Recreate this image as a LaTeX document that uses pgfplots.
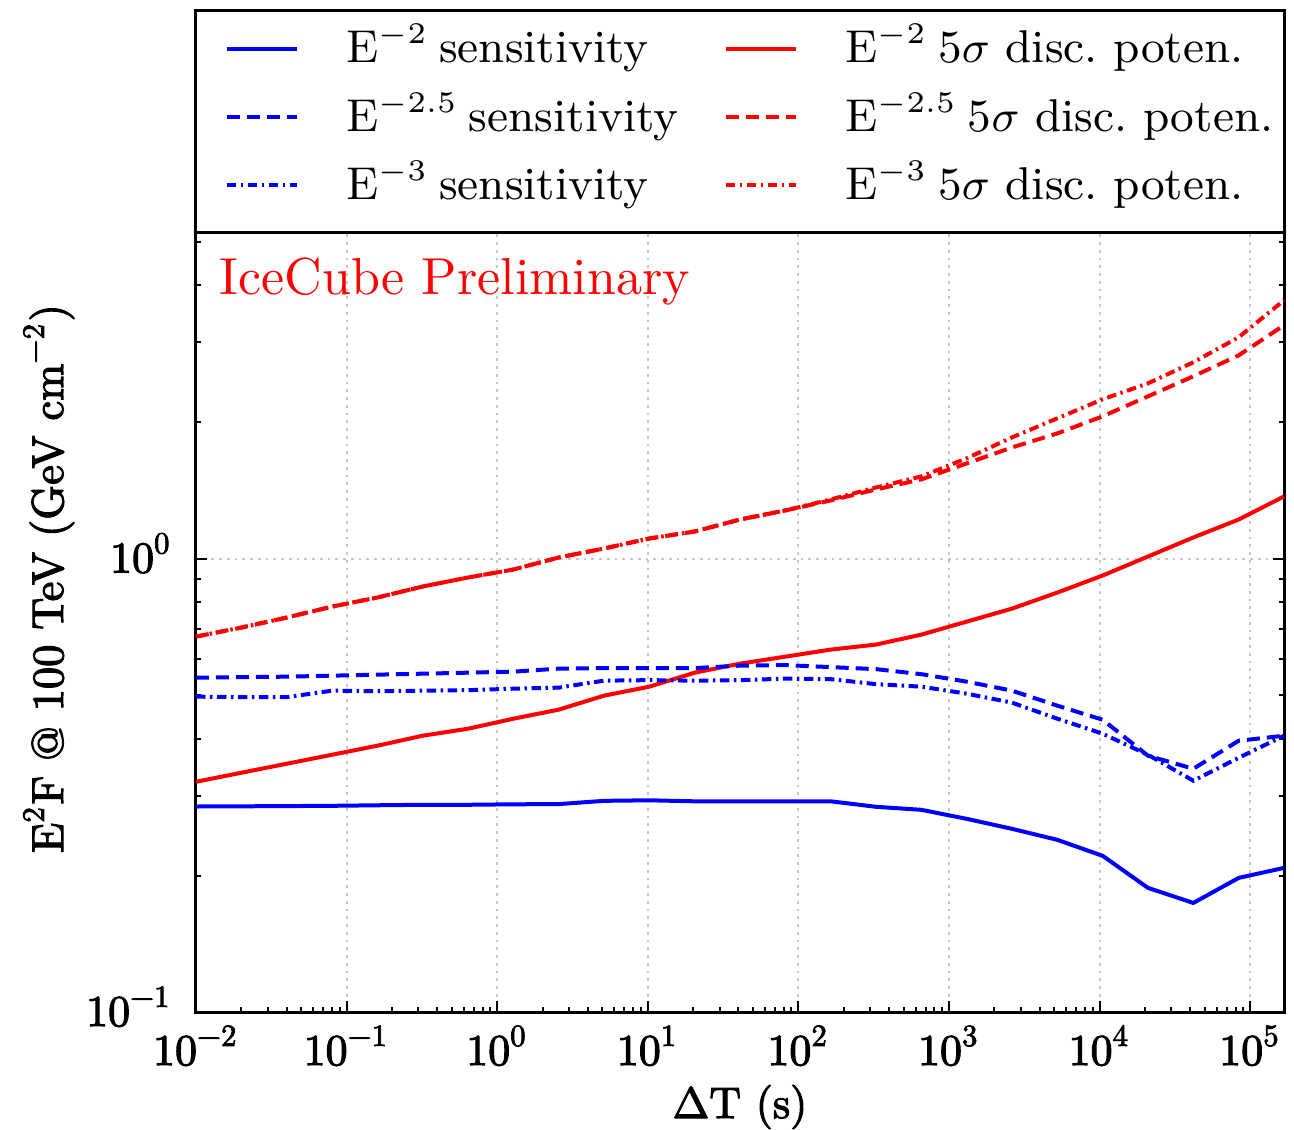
\documentclass[border=0pt]{standalone}
\usepackage{fontspec}
\usepackage{pgfplots}
\pgfplotsset{compat=1.18}
\usepackage{pgfplotstable}
\newfontfamily\fb{lmroman10-regular.otf}[FakeBold=2.5]

\pgfplotstableread{
x s2 s25 s3 d2 d25 d3
0.01 0.2839 0.5461 0.4959 0.3219 0.6727 0.6727
0.02 0.2842 0.5475 0.4946 0.3370 0.7043 0.7043
0.04 0.2845 0.5489 0.4946 0.3528 0.7410 0.7410
0.08 0.2849 0.5517 0.5112 0.3692 0.7834 0.7834
0.16 0.2857 0.5545 0.5099 0.3866 0.8203 0.8203
0.32 0.2864 0.5573 0.5112 0.4067 0.8674 0.8674
0.64 0.2864 0.5601 0.5125 0.4214 0.9081 0.9081
1.28 0.2871 0.5631 0.5164 0.4434 0.9456 0.9456
2.56 0.2874 0.5718 0.5191 0.4642 1.0051 1.0051
5.12 0.2922 0.5733 0.5379 0.4984 1.0522 1.0522
10.24 0.2930 0.5733 0.5393 0.5217 1.1071 1.1071
20.48 0.2915 0.5733 0.5379 0.5601 1.1471 1.1471
40.96 0.2915 0.5805 0.5393 0.5864 1.2190 1.2190
81.92 0.2915 0.5820 0.5434 0.6076 1.2764 1.2764
163.84 0.2915 0.5762 0.5420 0.6297 1.3428 1.3496
327.68 0.2835 0.5703 0.5284 0.6460 1.4203 1.4345
655.36 0.2792 0.5559 0.5217 0.6796 1.4945 1.5171
1310.72 0.2667 0.5352 0.5035 0.7259 1.6207 1.6634
2621.44 0.2535 0.5112 0.4810 0.7755 1.7579 1.8497
5242.88 0.2397 0.4737 0.4434 0.8413 1.8877 2.0377
10485.76 0.2210 0.4411 0.4109 0.9173 2.0585 2.2439
20971.52 0.1878 0.3674 0.3692 1.0102 2.2787 2.4343
41943.04 0.1740 0.3439 0.3236 1.1128 2.5223 2.7081
83886.08 0.1976 0.3965 0.3636 1.2190 2.8058 3.0753
167772.16 0.2079 0.4067 0.4067 1.3705 3.2682 3.7110
}\datatab

\tikzset{
  dsh/.style={dash pattern=on 2.6pt off 1.4pt},
  dshdot/.style={dash pattern=on 1.9pt off 0.9pt on 0.5pt off 0.9pt},
}
\newcommand{\strt}{\rule[-2pt]{0pt}{8.6pt}}

\begin{document}
\begin{tikzpicture}
\begin{axis}[
  at={(0,0)}, anchor=south west,
  scale only axis, width=217.6pt, height=200.4pt,
  xmode=log, ymode=log,
  xmin=0.01, xmax=167772.16, ymin=0.1, ymax=16.2,
  clip=false,
  axis line style={line width=0.6pt, black},
  every tick/.style={black, line width=0.4pt},
  major tick length=2.2pt, minor tick length=1.1pt,
  xtick={0.01,0.1,1,10,100,1000,10000,100000},
  xticklabels={{\fb 10\textsuperscript{−2}},{\fb 10\textsuperscript{−1}},{\fb 10\textsuperscript{0}},{\fb 10\textsuperscript{1}},{\fb 10\textsuperscript{2}},{\fb 10\textsuperscript{3}},{\fb 10\textsuperscript{4}},{\fb 10\textsuperscript{5}}},
  minor xtick={0.02,0.03,0.04,0.05,0.06,0.07,0.08,0.09,
    0.2,0.3,0.4,0.5,0.6,0.7,0.8,0.9,
    2,3,4,5,6,7,8,9,
    20,30,40,50,60,70,80,90,
    200,300,400,500,600,700,800,900,
    2000,3000,4000,5000,6000,7000,8000,9000,
    20000,30000,40000,50000,60000,70000,80000,90000},
  ytick={0.1,1,10},
  yticklabels={{\fb 10\textsuperscript{−1}},{\fb 10\textsuperscript{0}},{}},
  minor ytick={0.2,0.3,0.4,0.5,0.6,0.7,0.8,0.9,2,3,4,5,6,7,8,9},
  tick label style={font=\fontsize{8.8}{10}\selectfont, inner sep=0pt},
  xticklabel style={anchor=base, yshift=-10.6pt},
  yticklabel style={anchor=base east, xshift=-4.6pt, yshift=-2.8pt},
  grid=major,
  major grid style={black!22, line width=0.4pt, dash pattern=on 0.55pt off 1.0pt},
  xlabel={\fb ΔT (s)},
  xlabel style={at={(axis description cs:0.5,-0.1058)}, anchor=base, inner sep=0pt, font=\fontsize{8.8}{10}\selectfont},
  ylabel={\fb E\textsuperscript{2}F @ 100 TeV (GeV cm\textsuperscript{−2})},
  ylabel style={at={(axis description cs:-0.1222,0.4326)}, anchor=base, inner sep=0pt, font=\fontsize{8.9}{10}\selectfont},
  legend columns=2,
  legend cell align=left,
  legend image code/.code={\draw[#1] (0pt,0pt) -- (14pt,0pt);},
  legend style={at={(axis description cs:0.0253,0.9867)}, anchor=north west,
    draw=none, fill=none, inner sep=0pt, row sep=4.0pt,
    nodes={inner sep=0pt, text depth=2pt},
    /tikz/every odd column/.append style={column sep=9.6pt},
    /tikz/every even column/.append style={column sep=8.4pt},
    font=\fontsize{9.2}{11}\selectfont},
  every axis plot/.append style={line width=0.8pt},
]
\addplot[blue] table[x=x,y=s2] {\datatab};
\addlegendentry{\makebox[67pt][l]{E$^{-2}$\kern-1pt\ sensitivity}\strt}
\addplot[red] table[x=x,y=d2] {\datatab};
\addlegendentry{E$^{-2}$\kern-1pt\ 5$\sigma$ disc.\ poten.\strt}
\addplot[blue, dsh] table[x=x,y=s25] {\datatab};
\addlegendentry{\makebox[67pt][l]{E$^{-2.5}$\kern-1pt\ sensitivity}\strt}
\addplot[red, dsh] table[x=x,y=d25] {\datatab};
\addlegendentry{E$^{-2.5}$\kern-1pt\ 5$\sigma$ disc.\ poten.\strt}
\addplot[blue, dshdot] table[x=x,y=s3] {\datatab};
\addlegendentry{\makebox[67pt][l]{E$^{-3}$\kern-1pt\ sensitivity}\strt}
\addplot[red, dshdot] table[x=x,y=d3] {\datatab};
\addlegendentry{E$^{-3}$\kern-1pt\ 5$\sigma$ disc.\ poten.\strt}
\draw[line width=0.6pt, fill=white] (axis description cs:0,0.7779) rectangle (axis description cs:1,1);
\node[anchor=base west, text=red, inner sep=0pt, font=\fontsize{10.4}{12}\selectfont] at (axis description cs:0.0208,0.7156) {IceCube Preliminary};
\end{axis}
\path ([shift={(-39.2pt,-22.8pt)}]current axis.south west) rectangle ([shift={(2pt,2pt)}]current axis.north east);
\end{tikzpicture}
\end{document}
